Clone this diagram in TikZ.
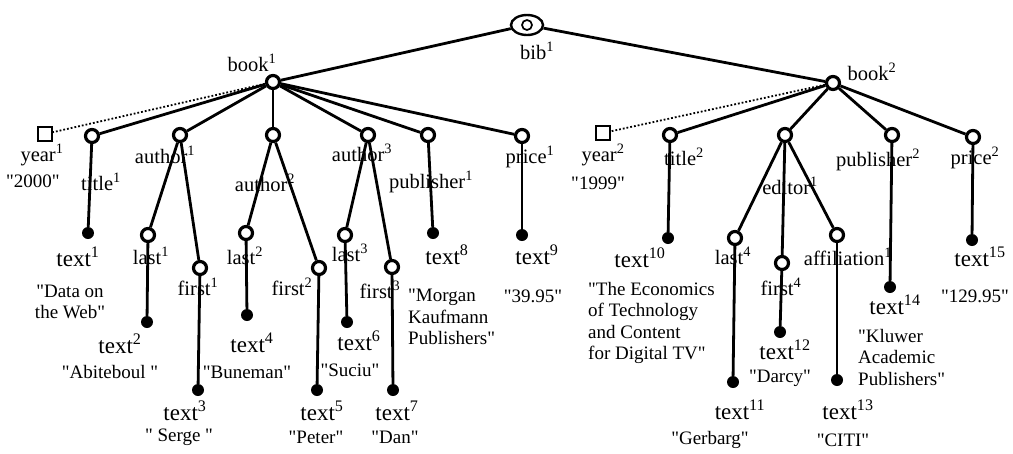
\documentclass[tikz,border=0pt]{standalone}
\usepackage{fontspec}
\setmainfont{Liberation Serif}[Ligatures=TeXOff]
\usetikzlibrary{shapes.geometric}
\begin{document}
\begin{tikzpicture}[x=1pt,y=-1pt,
  inode/.style={circle,draw,line width=3.2pt,minimum size=13pt,inner sep=0pt},
  leaf/.style={circle,fill,minimum size=12pt,inner sep=0pt},
  sq/.style={rectangle,draw,line width=2pt,minimum size=14pt,inner sep=0pt},
  lbl/.style={font=\fontsize{20.5}{22}\selectfont,inner sep=0pt},
  tlbl/.style={font=\fontsize{23}{26}\selectfont,inner sep=0pt},
  str/.style={font=\fontsize{19}{21.5}\selectfont,inner sep=0pt},
  edge/.style={line width=2.8pt},
  dedge/.style={line width=1.8pt,dotted}]
\useasboundingbox[fill=white] (0,0) rectangle (1013,453);
% root
\node[ellipse,draw,line width=2.4pt,minimum width=32pt,minimum height=20pt,inner sep=0pt] (bib) at (527,25) {};
\node[circle,draw,line width=1.7pt,minimum size=10pt,inner sep=0pt] (bibin) at (527,25) {};
% level 1
\node[inode] (book1) at (273,82) {};
\node[inode] (book2) at (833,83) {};
% level 2
\node[sq] (year1) at (45,134) {};
\node[inode] (title1) at (92,136) {};
\node[inode] (author1) at (180,135) {};
\node[inode] (author2) at (273,135) {};
\node[inode] (author3) at (368,135) {};
\node[inode] (publisher1) at (428,135) {};
\node[inode] (price1) at (522,136) {};
\node[sq] (year2) at (603,133) {};
\node[inode] (title2) at (670,135) {};
\node[inode] (editor1) at (785,135) {};
\node[inode] (publisher2) at (892,135) {};
\node[inode] (price2) at (973,137) {};
% level 3
\node[leaf] (text1) at (88,233) {};
\node[inode] (last1) at (148,235) {};
\node[inode] (first1) at (200,268) {};
\node[inode] (last2) at (246,233) {};
\node[inode] (first2) at (319,268) {};
\node[inode] (last3) at (345,235) {};
\node[inode] (first3) at (392,267) {};
\node[leaf] (text8) at (433,233) {};
\node[leaf] (text9) at (522,235) {};
\node[leaf] (text10) at (668,238) {};
\node[inode] (last4) at (735,238) {};
\node[inode] (first4) at (782,263) {};
\node[inode] (affil1) at (837,235) {};
\node[leaf] (text14) at (890,287) {};
\node[leaf] (text15) at (972,240) {};
% level 4
\node[leaf] (text2) at (147,322) {};
\node[leaf] (text3) at (198,390) {};
\node[leaf] (text4) at (247,315) {};
\node[leaf] (text5) at (317,390) {};
\node[leaf] (text6) at (347,322) {};
\node[leaf] (text7) at (393,390) {};
\node[leaf] (text11) at (733,382) {};
\node[leaf] (text12) at (780,332) {};
\node[leaf] (text13) at (837,380) {};
% edges
\draw[edge] (bib) -- (book1);
\draw[edge] (bib) -- (book2);
\draw[dedge] (book1) -- (year1);
\foreach \c in {title1,author1,author2,author3,publisher1,price1} \draw[edge] (book1) -- (\c);
\draw[dedge] (book2) -- (year2);
\foreach \c in {title2,editor1,publisher2,price2} \draw[edge] (book2) -- (\c);
\draw[edge] (title1) -- (text1);
\draw[edge] (author1) -- (last1);
\draw[edge] (author1) -- (first1);
\draw[edge] (last1) -- (text2);
\draw[edge] (first1) -- (text3);
\draw[edge] (author2) -- (last2);
\draw[edge] (author2) -- (first2);
\draw[edge] (last2) -- (text4);
\draw[edge] (first2) -- (text5);
\draw[edge] (author3) -- (last3);
\draw[edge] (author3) -- (first3);
\draw[edge] (last3) -- (text6);
\draw[edge] (first3) -- (text7);
\draw[edge] (publisher1) -- (text8);
\draw[edge] (price1) -- (text9);
\draw[edge] (title2) -- (text10);
\draw[edge] (editor1) -- (last4);
\draw[edge] (editor1) -- (first4);
\draw[edge] (editor1) -- (affil1);
\draw[edge] (last4) -- (text11);
\draw[edge] (first4) -- (text12);
\draw[edge] (affil1) -- (text13);
\draw[edge] (publisher2) -- (text14);
\draw[edge] (price2) -- (text15);
% labels
\node[lbl] (lbib) at (537,51) {bib\textsuperscript{1}};
\node[lbl] (lbook1) at (252,63) {book\textsuperscript{1}};
\node[lbl] (lbook2) at (872,72) {book\textsuperscript{2}};
\node[lbl] (lyear1) at (42,155) {year\textsuperscript{1}};
\node[str] (s2000) at (33,181) {"2000"};
\node[lbl] (ltitle1) at (101,182) {title\textsuperscript{1}};
\node[lbl] (lauthor1) at (165,155) {author\textsuperscript{1}};
\node[lbl] (lauthor2) at (265,183) {author\textsuperscript{2}};
\node[lbl] (lauthor3) at (362,153) {author\textsuperscript{3}};
\node[lbl] (lpub1) at (431,182) {publisher\textsuperscript{1}};
\node[lbl] (lprice1) at (530,157) {price\textsuperscript{1}};
\node[lbl] (lyear2) at (603,155) {year\textsuperscript{2}};
\node[str] (s1999) at (598,183) {"1999"};
\node[lbl] (ltitle2) at (684,157) {title\textsuperscript{2}};
\node[lbl] (leditor1) at (790,186) {editor\textsuperscript{1}};
\node[lbl] (lpub2) at (878,160) {publisher\textsuperscript{2}};
\node[lbl] (lprice2) at (975,158) {price\textsuperscript{2}};
\node[tlbl] (ltext1) at (78,257) {text\textsuperscript{1}};
\node[str,align=center] (sdata) at (70,302) {"Data on\\the Web"};
\node[lbl] (llast1) at (151,256) {last\textsuperscript{1}};
\node[lbl] (lfirst1) at (198,287) {first\textsuperscript{1}};
\node[tlbl] (ltext2) at (120,344) {text\textsuperscript{2}};
\node[str] (sabit) at (110,372) {"Abiteboul "};
\node[tlbl] (ltext3) at (185,411) {text\textsuperscript{3}};
\node[str] (sserge) at (179,437) {" Serge "};
\node[lbl] (llast2) at (245,256) {last\textsuperscript{2}};
\node[lbl] (lfirst2) at (292,287) {first\textsuperscript{2}};
\node[tlbl] (ltext4) at (252,343) {text\textsuperscript{4}};
\node[str] (sbun) at (247,372) {"Buneman"};
\node[tlbl] (ltext5) at (322,411) {text\textsuperscript{5}};
\node[str] (speter) at (316,437) {"Peter"};
\node[lbl] (llast3) at (350,253) {last\textsuperscript{3}};
\node[lbl] (lfirst3) at (380,290) {first\textsuperscript{3}};
\node[tlbl] (ltext6) at (359,341) {text\textsuperscript{6}};
\node[str] (ssuciu) at (350,370) {"Suciu"};
\node[tlbl] (ltext7) at (397,411) {text\textsuperscript{7}};
\node[str] (sdan) at (395,437) {"Dan"};
\node[tlbl] (ltext8) at (447,255) {text\textsuperscript{8}};
\node[str,align=left,anchor=west] (smorgan) at (408,317) {"Morgan\\Kaufmann\\Publishers"};
\node[tlbl] (ltext9) at (537,255) {text\textsuperscript{9}};
\node[str] (s3995) at (533,296) {"39.95"};
\node[tlbl] (ltext10) at (640,258) {text\textsuperscript{10}};
\node[str,align=left,anchor=west] (secon) at (588,323) {"The Economics\\of Technology\\and Content\\for Digital TV"};
\node[lbl] (llast4) at (733,256) {last\textsuperscript{4}};
\node[lbl] (lfirst4) at (781,287) {first\textsuperscript{4}};
\node[lbl] (laffil1) at (848,257) {affiliation\textsuperscript{1}};
\node[tlbl] (ltext11) at (740,410) {text\textsuperscript{11}};
\node[str] (sgerb) at (710,440) {"Gerbarg"};
\node[tlbl] (ltext12) at (785,350) {text\textsuperscript{12}};
\node[str] (sdarcy) at (780,378) {"Darcy"};
\node[tlbl] (ltext13) at (848,410) {text\textsuperscript{13}};
\node[str] (sciti) at (843,440) {"CITI"};
\node[tlbl] (ltext14) at (895,305) {text\textsuperscript{14}};
\node[str,align=left,anchor=west] (skluwer) at (858,357) {"Kluwer\\Academic\\Publishers"};
\node[tlbl] (ltext15) at (980,257) {text\textsuperscript{15}};
\node[str] (s12995) at (975,296) {"129.95"};
\end{tikzpicture}
\end{document}
